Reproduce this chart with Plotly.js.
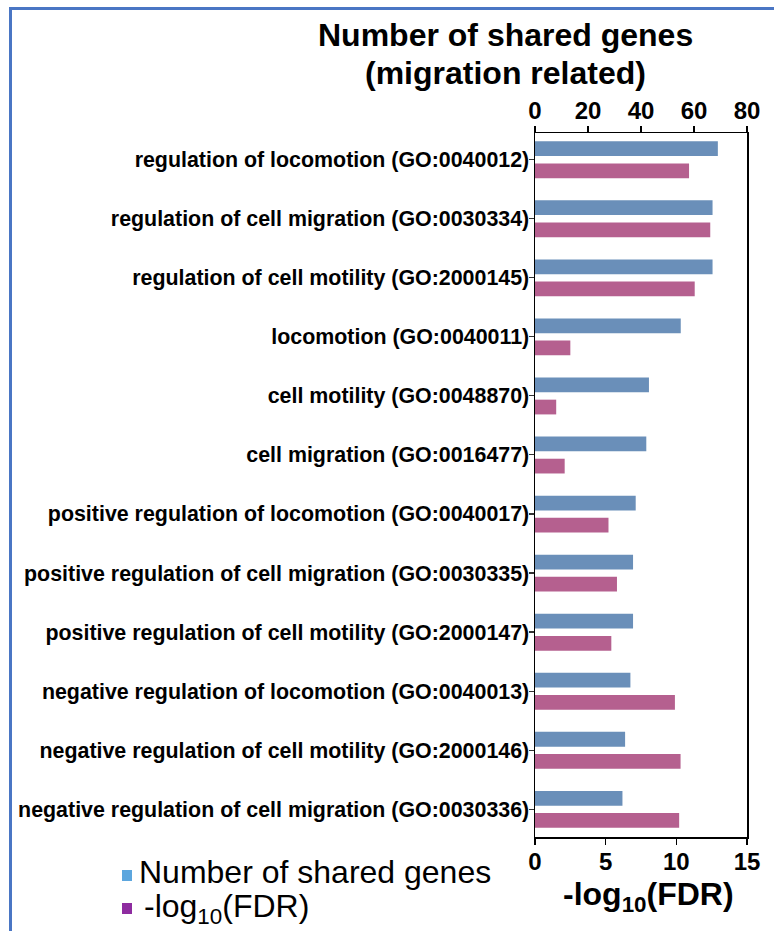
<!DOCTYPE html>
<html>
<head>
<meta charset="utf-8">
<script src="https://cdn.plot.ly/plotly-3.0.1.min.js"></script>
<style>
  html, body { margin: 0; padding: 0; background: #ffffff; overflow: hidden; }
  #wrap { position: relative; width: 774px; height: 931px; }
  #frame {
    position: absolute; left: 9px; top: 7px; width: 800px; height: 1000px;
    border-top: 3px solid #4a76c4; border-left: 3px solid #4a76c4;
    pointer-events: none;
  }
  #chart { position: absolute; left: 0; top: 0; width: 774px; height: 931px; }
</style>
</head>
<body>
<div id="wrap">
  <div id="frame"></div>
  <div id="chart"></div>
</div>
<script>
// GO biological-process terms (migration related)
const goTerms = [
  "regulation of locomotion (GO:0040012)",
  "regulation of cell migration (GO:0030334)",
  "regulation of cell motility (GO:2000145)",
  "locomotion (GO:0040011)",
  "cell motility (GO:0048870)",
  "cell migration (GO:0016477)",
  "positive regulation of locomotion (GO:0040017)",
  "positive regulation of cell migration (GO:0030335)",
  "positive regulation of cell motility (GO:2000147)",
  "negative regulation of locomotion (GO:0040013)",
  "negative regulation of cell motility (GO:2000146)",
  "negative regulation of cell migration (GO:0030336)"
];

// Number of shared genes per term (top axis)
const sharedGenes = [69, 67, 67, 55, 43, 42, 38, 37, 37, 36, 34, 33];

// -log10(FDR) per term (bottom axis)
const negLog10FDR = [10.9, 12.4, 11.3, 2.5, 1.5, 2.1, 5.2, 5.8, 5.4, 9.9, 10.3, 10.2];

// Axis ticks
const geneTicks = [0, 20, 40, 60, 80];
const fdrTicks = [0, 5, 10, 15];

// Plot area in pixels (used to place the free-standing texts)
const W = 774, H = 931;
const M = { l: 535, r: 27, t: 133, b: 94 };
const pw = W - M.l - M.r, ph = H - M.t - M.b;
const px = x => (x - M.l) / pw;
const py = y => (H - M.b - y) / ph;

const FONT = "Liberation Sans, Arial, sans-serif";

const traces = [
  {
    type: "bar", orientation: "h",
    name: "Number of shared genes",
    y: goTerms, x: sharedGenes,
    xaxis: "x2", yaxis: "y",
    offset: -0.31, width: 0.25,
    marker: { color: "#6a8fb9", line: { width: 0 } },
    hoverinfo: "x+y"
  },
  {
    type: "bar", orientation: "h",
    name: "-log10(FDR)",
    y: goTerms, x: negLog10FDR,
    xaxis: "x", yaxis: "y",
    offset: 0.065, width: 0.25,
    marker: { color: "#b5608f", line: { width: 0 } },
    hoverinfo: "x+y"
  }
];

const layout = {
  width: W, height: H,
  margin: M,
  paper_bgcolor: "rgba(0,0,0,0)",
  plot_bgcolor: "#ffffff",
  showlegend: false,
  barmode: "overlay",
  font: { family: FONT, color: "#000000" },
  xaxis: {
    range: [0, 15],
    tickmode: "array", tickvals: fdrTicks,
    ticks: "outside", ticklen: 6, tickwidth: 1.2, tickcolor: "#000",
    ticklabelstandoff: -3,
    showline: true, linecolor: "#000", linewidth: 1.5,
    showgrid: false, zeroline: false,
    tickfont: { family: FONT, size: 24, weight: 700 }
  },
  xaxis2: {
    overlaying: "x", side: "top",
    range: [0, 80],
    tickmode: "array", tickvals: geneTicks,
    ticks: "outside", ticklen: 6, tickwidth: 1.2, tickcolor: "#000",
    ticklabelstandoff: -3,
    showline: true, linecolor: "#000", linewidth: 1.5,
    showgrid: false, zeroline: false,
    tickfont: { family: FONT, size: 24, weight: 700 }
  },
  yaxis: {
    type: "category",
    categoryarray: goTerms,
    range: [11.47, -0.45],
    ticks: "outside", ticklen: 5, tickwidth: 1.2, tickcolor: "#333",
    ticklabelstandoff: -5,
    showline: true, mirror: true, linecolor: "#000", linewidth: 1.5,
    showgrid: false, zeroline: false,
    tickfont: { family: FONT, size: 21.4, weight: 700 }
  },
  annotations: [
    {
      text: "Number of shared genes", xref: "paper", yref: "paper",
      x: px(505), y: py(35), xanchor: "center", yanchor: "middle",
      showarrow: false, font: { family: FONT, size: 32, weight: 700 }
    },
    {
      text: "(migration related)", xref: "paper", yref: "paper",
      x: px(505), y: py(73), xanchor: "center", yanchor: "middle",
      showarrow: false, font: { family: FONT, size: 32, weight: 700 }
    },
    {
      text: "-log<sub>10</sub>(FDR)", xref: "paper", yref: "paper",
      x: px(648), y: py(896), xanchor: "center", yanchor: "middle",
      showarrow: false, font: { family: FONT, size: 32, weight: 700 }
    },
    {
      text: "Number of shared genes", xref: "paper", yref: "paper",
      x: px(137), y: py(872), xanchor: "left", yanchor: "middle",
      showarrow: false, font: { family: FONT, size: 32 }
    },
    {
      text: "-log<sub>10</sub>(FDR)", xref: "paper", yref: "paper",
      x: px(142), y: py(908), xanchor: "left", yanchor: "middle",
      showarrow: false, font: { family: FONT, size: 32 }
    }
  ],
  shapes: [
    {
      type: "rect", xref: "paper", yref: "paper",
      x0: px(122), x1: px(132), y0: py(881), y1: py(870),
      fillcolor: "#5ca6de", line: { width: 0 }
    },
    {
      type: "rect", xref: "paper", yref: "paper",
      x0: px(122), x1: px(132), y0: py(914), y1: py(903),
      fillcolor: "#8e2ca0", line: { width: 0 }
    }
  ]
};

Plotly.newPlot("chart", traces, layout, { displayModeBar: false, staticPlot: true });
</script>
</body>
</html>
